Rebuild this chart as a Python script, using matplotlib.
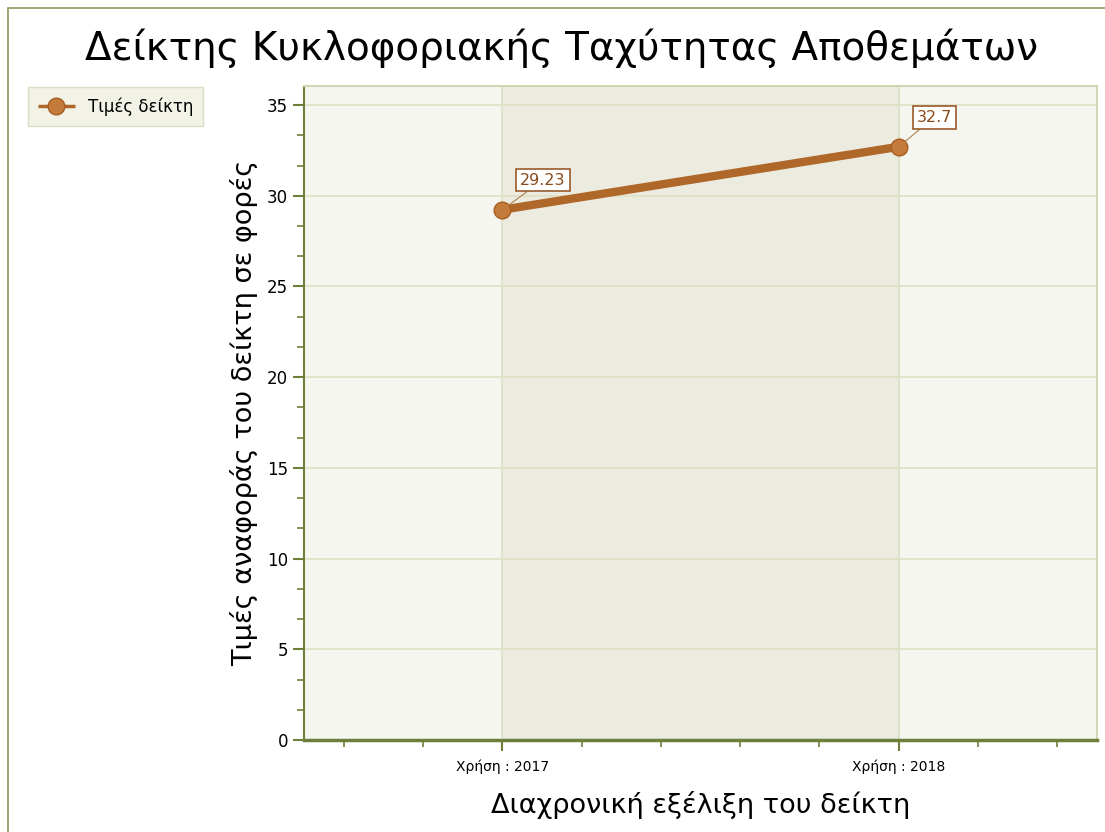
import numpy as np
import matplotlib
matplotlib.use("Agg")
from matplotlib import pyplot as plt
from matplotlib.patches import Rectangle
from matplotlib.ticker import MultipleLocator

# δεδομένα
categories = ["Χρήση : 2017", "Χρήση : 2018"]
values = [29.23, 32.7]
labels = ["29.23", "32.7"]

title = "Δείκτης Κυκλοφοριακής Ταχύτητας Αποθεμάτων"
xlabel = "Διαχρονική εξέλιξη του δείκτη"
ylabel = "Τιμές αναφοράς του δείκτη σε φορές"
series_name = "Τιμές δείκτη"

line_color = "#B0682A"
olive = "#6E7F3C"

plt.rcParams["font.family"] = ["DejaVu Sans"]

fig = plt.figure(figsize=(11.05, 8.32), dpi=100)
fig.patch.set_facecolor("white")

# outer border
fig.patches.append(Rectangle((8 / 1105, -0.01), 1.02, 1 - 8 / 832 + 0.01,
                             transform=fig.transFigure, fill=False,
                             edgecolor="#8A9A5B", lw=1.2))

ax = fig.add_axes([304 / 1105, 1 - 740 / 832, 793 / 1105, 654 / 832])
ax.set_facecolor("#F6F6F0")

x = np.arange(len(categories))
ax.set_xlim(-0.5, len(categories) - 0.5)
ax.set_ylim(0, 36.05)

# band between categories
ax.axvspan(x[0], x[-1], color="#ECEBE0", zorder=0)

# grid
ax.yaxis.set_major_locator(MultipleLocator(5))
ax.yaxis.set_minor_locator(MultipleLocator(5 / 3))
ax.set_xticks(x)
ax.set_xticklabels(categories, fontsize=10)
ax.xaxis.set_minor_locator(MultipleLocator(0.2))
ax.grid(True, which="major", color="#DDE0C4", lw=1.2, zorder=1)
ax.set_axisbelow(True)

ax.plot(x, values, color=line_color, lw=6, marker="o", ms=12,
        mfc="#C47A3A", mec="#A65E22", mew=1, solid_capstyle="butt",
        zorder=3, label=series_name)

for xi, v, s in zip(x, values, labels):
    ax.annotate(s, xy=(xi, v), xytext=(13, 16), textcoords="offset points",
                ha="left", va="bottom", fontsize=11.5, color="#8B4A1C",
                bbox=dict(boxstyle="square,pad=0.25", fc="white",
                          ec="#9A5A2A", lw=1.2),
                arrowprops=dict(arrowstyle="-", color="#B08050", lw=0.8,
                                shrinkA=0, shrinkB=6),
                zorder=4)

for side in ["left", "bottom"]:
    ax.spines[side].set_color(olive)
ax.spines["left"].set_linewidth(1.5)
ax.spines["bottom"].set_linewidth(2.5)
for side in ["top", "right"]:
    ax.spines[side].set_color("#D2D6B4")
    ax.spines[side].set_linewidth(1.5)

ax.tick_params(axis="both", which="major", color=olive, width=1.5, length=8)
ax.tick_params(axis="both", which="minor", color=olive, width=1.2, length=5)
ax.tick_params(axis="y", labelsize=12)
ax.tick_params(axis="x", pad=6)

fig.suptitle(title, fontsize=28, x=562 / 1105, y=1 - 48 / 832, va="center")
ax.set_xlabel(xlabel, fontsize=19.5, labelpad=12)
ax.set_ylabel(ylabel, fontsize=19.5, labelpad=6)

leg = fig.legend(loc="upper left", bbox_to_anchor=(28 / 1105, 1 - 87 / 832),
                 borderaxespad=0, fontsize=12, frameon=True,
                 fancybox=False, handlelength=2.2, borderpad=0.6)
leg.get_frame().set_facecolor("#EFEFE2")
leg.get_frame().set_edgecolor("#D4D8B8")
for h in leg.legend_handles:
    h.set_linewidth(2.5)
    h.set_markersize(12)

fig.savefig("out.png", dpi=100)
